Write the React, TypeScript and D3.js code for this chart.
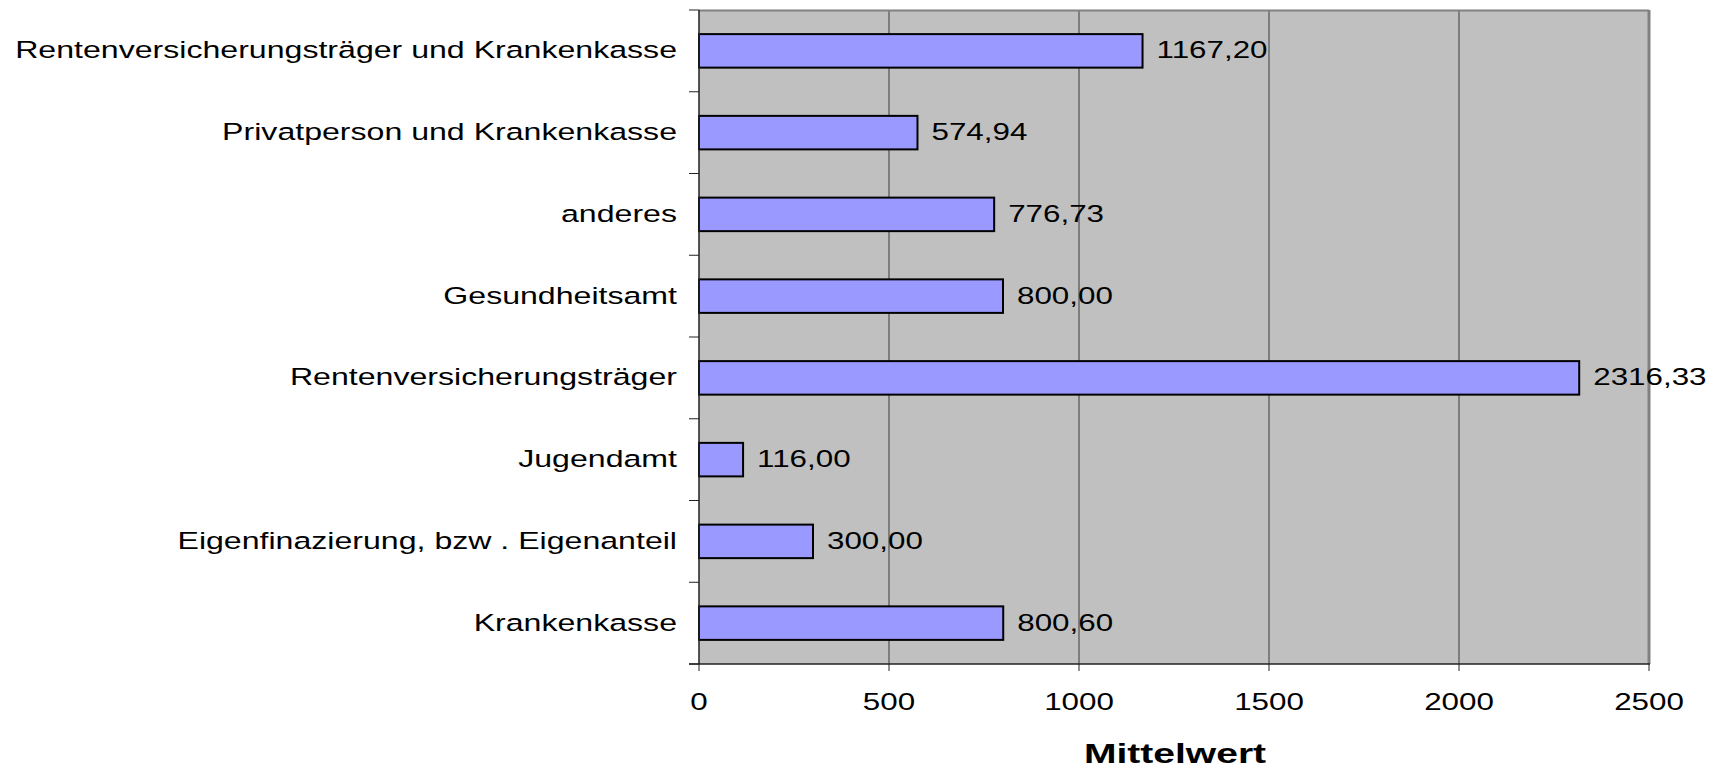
import React from 'react';
import * as d3 from 'd3';

const categories = [
  'Rentenversicherungsträger und Krankenkasse',
  'Privatperson und Krankenkasse',
  'anderes',
  'Gesundheitsamt',
  'Rentenversicherungsträger',
  'Jugendamt',
  'Eigenfinazierung, bzw . Eigenanteil',
  'Krankenkasse',
];
const values = [1167.2, 574.94, 776.73, 800.0, 2316.33, 116.0, 300.0, 800.6];
const xTicks = [0, 500, 1000, 1500, 2000, 2500];
const axisTitle = 'Mittelwert';

const W = 1717;
const H = 770;
const plot = { left: 699, right: 1649, top: 10, bottom: 664 };
const FONT = "'Liberation Sans', Arial, sans-serif";
const SX = 1.28;
const SX_CAT = 1.31;

const fmt = (v: number) => v.toFixed(2).replace('.', ',');

export default function App() {
  const x = d3.scaleLinear().domain([0, 2500]).range([plot.left, plot.right]);
  const y = d3
    .scaleBand<string>()
    .domain(categories)
    .range([plot.top, plot.bottom])
    .paddingInner(0.59)
    .paddingOuter(0.295);
  const step = y.step();
  const boundaries = d3.range(categories.length + 1).map((i) => plot.top + i * step);

  return (
    <svg
      width={W}
      height={H}
      style={{ position: 'absolute', left: 0, top: 0, background: '#fff' }}
      fontFamily={FONT}
    >
      <rect
        x={plot.left}
        y={plot.top}
        width={plot.right - plot.left}
        height={plot.bottom - plot.top}
        fill="#C0C0C0"
      />
      {xTicks.slice(1, -1).map((t) => (
        <line
          key={'g' + t}
          x1={x(t)}
          x2={x(t)}
          y1={plot.top}
          y2={plot.bottom}
          stroke="#3a3a3a"
          strokeWidth={1}
        />
      ))}
      <line x1={plot.left} x2={plot.right} y1={plot.top + 0.5} y2={plot.top + 0.5} stroke="#808080" strokeWidth={2} />
      <line x1={plot.right} x2={plot.right} y1={plot.top} y2={plot.bottom} stroke="#808080" strokeWidth={3} />
      {categories.map((c, i) => (
        <rect
          key={c}
          x={x(0)}
          y={y(c)!}
          width={x(values[i]) - x(0)}
          height={y.bandwidth()}
          fill="#9999FF"
          stroke="#000"
          strokeWidth={2}
        />
      ))}
      <line x1={plot.left} x2={plot.left} y1={plot.top} y2={plot.bottom} stroke="#222" strokeWidth={1.5} />
      <line x1={plot.left - 10} x2={plot.right + 1} y1={plot.bottom} y2={plot.bottom} stroke="#222" strokeWidth={1.5} />
      {boundaries.map((b, i) => (
        <line key={'yt' + i} x1={plot.left - 10} x2={plot.left} y1={b} y2={b} stroke="#222" strokeWidth={1} />
      ))}
      {xTicks.map((t) => (
        <line key={'xt' + t} x1={x(t)} x2={x(t)} y1={plot.bottom} y2={plot.bottom + 7} stroke="#222" strokeWidth={1} />
      ))}
      {categories.map((c) => (
        <text
          key={'l' + c}
          transform={`translate(${plot.left - 22},${y(c)! + y.bandwidth() / 2 + 7.5}) scale(${SX_CAT},1)`}
          textAnchor="end"
          fontSize={24.5}
          fill="#000"
        >
          {c}
        </text>
      ))}
      {categories.map((c, i) => (
        <text
          key={'v' + c}
          transform={`translate(${x(values[i]) + 14},${y(c)! + y.bandwidth() / 2 + 7.5}) scale(${SX},1)`}
          fontSize={24.5}
          fill="#000"
        >
          {fmt(values[i])}
        </text>
      ))}
      {xTicks.map((t) => (
        <text
          key={'xl' + t}
          transform={`translate(${x(t)},${plot.bottom + 46}) scale(${SX},1)`}
          textAnchor="middle"
          fontSize={24.5}
          fill="#000"
        >
          {t}
        </text>
      ))}
      <text
        transform={`translate(${(plot.left + plot.right) / 2 + 1},763) scale(1.37,1)`}
        textAnchor="middle"
        fontSize={28.5}
        fontWeight="bold"
        fill="#000"
      >
        {axisTitle}
      </text>
    </svg>
  );
}
